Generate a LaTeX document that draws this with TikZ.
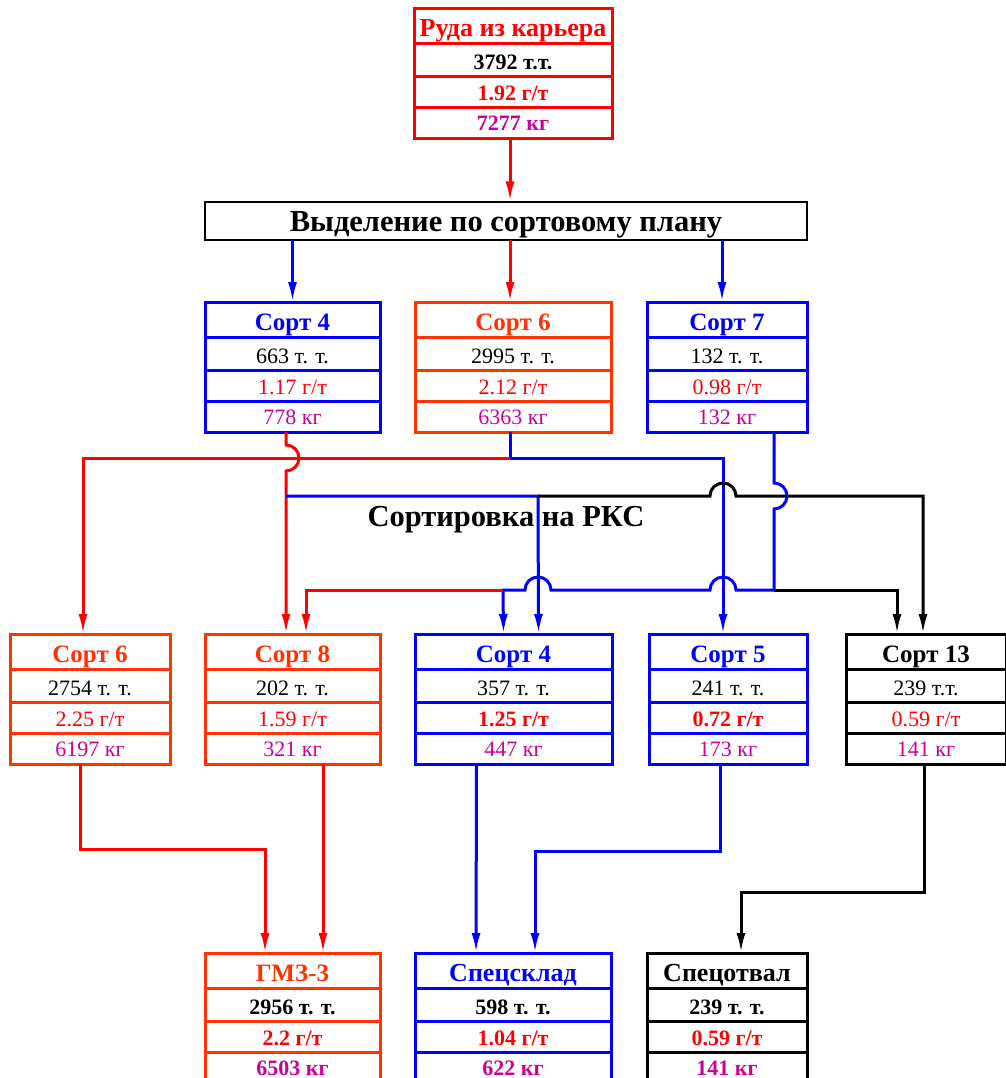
\documentclass[tikz,border=0pt]{standalone}
\usepackage{fontspec}
\setmainfont{Liberation Serif}
\usetikzlibrary{arrows.meta}
\definecolor{cred}{RGB}{255,0,0}
\definecolor{corg}{RGB}{255,51,0}
\definecolor{cblue}{RGB}{0,0,255}
\definecolor{cmag}{RGB}{204,0,153}
\tikzset{
  boxframe/.style={draw, line width=3pt, minimum height=130pt, inner sep=0pt, outer sep=0pt, anchor=north west},
  ttl/.style={anchor=base, font=\fontsize{25}{30}\selectfont\bfseries, inner sep=0pt},
  val/.style={anchor=base, font=\fontsize{22}{26}\selectfont, inner sep=0pt},
  bigtxt/.style={font=\fontsize{30.5}{36}\selectfont\bfseries, inner sep=0pt},
  conn/.style={line width=3pt},
  arr/.style={-{Latex[length=20pt,width=9pt]}},
}
\newcommand{\wider}{\fontsize{26}{30}\selectfont}
\newcommand{\flowbox}[9]{%
  \node[boxframe, draw=#5, minimum width={(#3)-(#2)}] (#1) at (#2,#4) {};
  \draw[#5, line width=3pt] (#2,#4+35) -- (#3,#4+35) (#2,#4+68) -- (#3,#4+68) (#2,#4+99) -- (#3,#4+99);
  \node[ttl, text=#5] (#1-t) at ({(#2+#3)/2},#4+28) {#6};
  \node[val] (#1-m) at ({(#2+#3)/2},#4+61) {#7};
  \node[val, text=cred] (#1-g) at ({(#2+#3)/2},#4+92) {#8};
  \node[val, text=cmag] (#1-k) at ({(#2+#3)/2},#4+122) {#9};
}
\begin{document}
\begin{tikzpicture}[x=1pt,y=-1pt]
\useasboundingbox[fill=white] (0,0) rectangle (1005,1078);

% boxes
\flowbox{ore}{414}{612}{9}{cred}{\wider Руда из карьера}{\bfseries 3792 т.т.}{\bfseries 1.92 г/т}{\bfseries 7277 кг}
\node[draw, line width=2pt, minimum width=602pt, minimum height=38pt, inner sep=0pt, outer sep=0pt,
      bigtxt, text height=21pt, text depth=0pt] (sel) at (506,220.5) {Выделение по сортовому плану};

\flowbox{s4a}{205}{380}{302}{cblue}{Сорт 4}{663 т. т.}{1.17 г/т}{778 кг}
\flowbox{s6a}{415}{611}{302}{corg}{Сорт 6}{2995 т. т.}{2.12 г/т}{6363 кг}
\flowbox{s7a}{647}{807}{302}{cblue}{Сорт 7}{132 т. т.}{0.98 г/т}{132 кг}

\node[bigtxt, anchor=base] (rks) at (506,526) {Сортировка на РКС};

\flowbox{s6b}{10}{170}{634}{corg}{Сорт 6}{2754 т. т.}{2.25 г/т}{6197 кг}
\flowbox{s8b}{205}{380}{634}{corg}{Сорт 8}{202 т. т.}{1.59 г/т}{321 кг}
\flowbox{s4b}{415}{612}{634}{cblue}{Сорт 4}{357 т. т.}{\bfseries 1.25 г/т}{447 кг}
\flowbox{s5b}{649}{807}{634}{cblue}{Сорт 5}{241 т. т.}{\bfseries 0.72 г/т}{173 кг}
\flowbox{s13b}{846}{1006}{634}{black}{Сорт 13}{239 т.т.}{0.59 г/т}{141 кг}

\flowbox{gmz}{205}{380}{953}{corg}{ГМЗ-3}{\bfseries 2956 т. т.}{\bfseries 2.2 г/т}{\bfseries 6503 кг}
\flowbox{spc}{415}{611}{953}{cblue}{\wider Спецсклад}{\bfseries 598 т. т.}{\bfseries 1.04 г/т}{\bfseries 622 кг}
\flowbox{otv}{647}{807}{953}{black}{\wider Спецотвал}{\bfseries 239 т. т.}{\bfseries 0.59 г/т}{\bfseries 141 кг}

% top connectors
\coordinate (o1) at ([xshift=-3pt]ore.south);
\draw[conn, cred, arr] (o1) -- (o1 |- sel.north);
\draw[conn, cblue, arr] (sel.south -| s4a.north) -- (s4a.north);
\coordinate (c6) at ([xshift=-3pt]s6a.north);
\draw[conn, cred, arr] (sel.south -| c6) -- (c6);
\coordinate (c7) at ([xshift=-5pt]s7a.north);
\draw[conn, cblue, arr] (sel.south -| c7) -- (c7);

% arrow end points on the second row
\coordinate (e6) at ([xshift=-7pt]s6b.north);
\coordinate (e8a) at ([xshift=-6.5pt]s8b.north);
\coordinate (e8b) at ([xshift=13.5pt]s8b.north);
\coordinate (e4a) at ([xshift=-10pt]s4b.north);
\coordinate (e4b) at ([xshift=25pt]s4b.north);
\coordinate (e5) at ([xshift=-5pt]s5b.north);
\coordinate (e13a) at ([xshift=-29pt]s13b.north);
\coordinate (e13b) at ([xshift=-3pt]s13b.north);

% junctions
\coordinate (jA) at (510,458);
\coordinate (jB) at (286,496);
\coordinate (jC) at (538,496);
\coordinate (jD) at (774,590);
\coordinate (jE) at (503,590);

% from Sort 6 (upper)
\draw[conn, cblue] (s6a.south -| jA) -- (jA);
\draw[conn, cblue, arr] (jA) -- (jA -| e5) -- (e5);
\draw[conn, cred, arr] (jA) -- (jA -| e6) -- (e6);

% from Sort 4 (upper)
\draw[conn, cred, arr] ([xshift=-6.5pt]s4a.south) -- (286,445)
   arc[start angle=-90, end angle=90, radius=13] -- (e8a);
\draw[conn, cblue, arr] (jB) -- (jC) -- (e4b);
\draw[conn, black, arr] (jC) -- (710,496) arc[start angle=-180, end angle=0, radius=13]
   -- (jC -| e13b) -- (e13b);

% from Sort 7 (upper)
\draw[conn, cblue] ([xshift=47pt]s7a.south) -- (774,483)
   arc[start angle=-90, end angle=90, radius=13] -- (jD);
\draw[conn, cblue, arr] (jD) -- (736,590) arc[start angle=0, end angle=-180, radius=13]
   -- (551,590) arc[start angle=0, end angle=-180, radius=13] -- (jE) -- (e4a);
\draw[conn, cred, arr] (jE) -- (jE -| e8b) -- (e8b);
\draw[conn, black, arr] (jD) -- (jD -| e13a) -- (e13a);

% bottom connectors
\draw[conn, cred, arr] ([xshift=-10pt]s6b.south) -- ++(0,85) -| ([xshift=-27.5pt]gmz.north);
\draw[conn, cred, arr] ([xshift=30.5pt]s8b.south) -- ([xshift=30.5pt]gmz.north);
\draw[conn, cblue, arr] ([xshift=-37pt]s4b.south) -- ([xshift=-37pt]spc.north);
\draw[conn, cblue, arr] ([xshift=-8pt]s5b.south) -- ++(0,87) -| ([xshift=22pt]spc.north);
\draw[conn, black, arr] ([xshift=-2pt]s13b.south) -- ++(0,128) -| ([xshift=14pt]otv.north);
\end{tikzpicture}
\end{document}
